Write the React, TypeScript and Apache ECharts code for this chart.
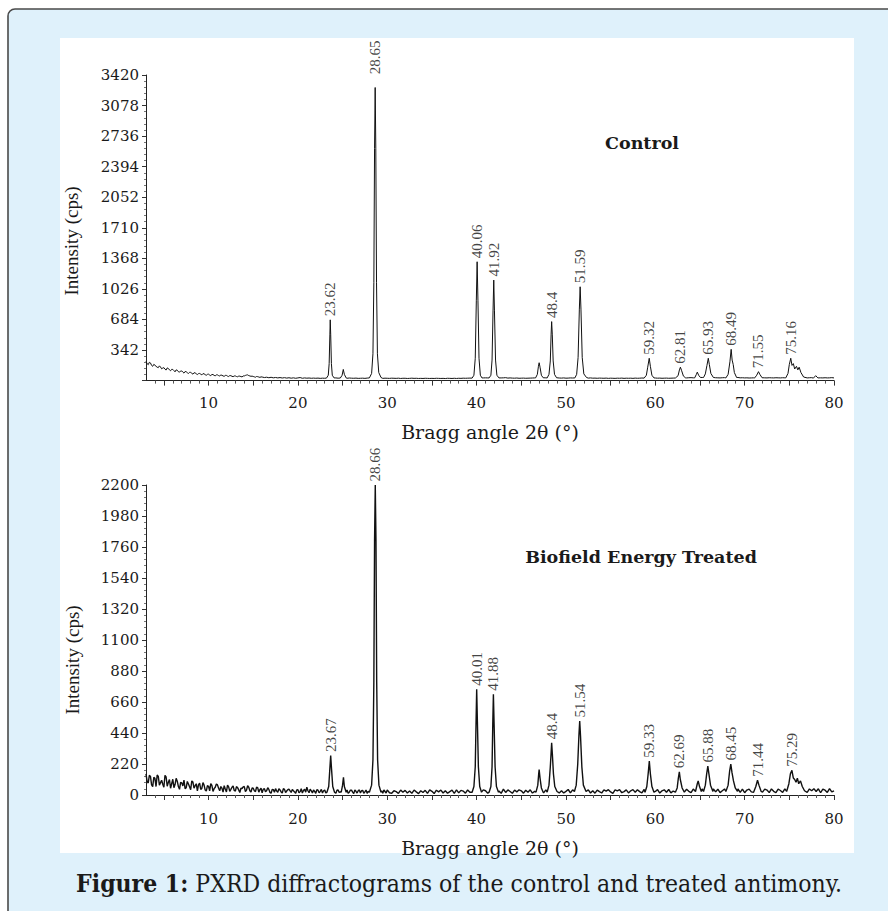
import React, { useEffect, useRef } from "react";
import * as echarts from "echarts";

// ---------- data ----------
const X_MIN = 3;
const X_MAX = 80;
const GRID_STEP = 0.25; // background samples every 0.25 degree
const MID_START = 3.125; // extra in-between background samples start here

const xTickMajor = [5, 10, 15, 20, 25, 30, 35, 40, 45, 50, 55, 60, 65, 70, 75, 80];
const xTickLabels = [10, 20, 30, 40, 50, 60, 70, 80];
const xTickMinor = [4, 6, 7, 8, 9, 11, 12, 13, 14, 16, 17, 18, 19, 21, 22, 23, 24, 26, 27, 28, 29, 31, 32, 33, 34, 36, 37, 38, 39, 41, 42, 43, 44, 46, 47, 48, 49, 51, 52, 53, 54, 56, 57, 58, 59, 61, 62, 63, 64, 66, 67, 68, 69, 71, 72, 73, 74, 76, 77, 78, 79];

const controlYMax = 3420;
const controlYStep = 342;
const treatedYMax = 2200;
const treatedYStep = 220;

// Control: background trace (cps), 0.25 deg apart starting at 3
const controlBaseline = [
  215, 178, 198, 160, 172, 150, 165, 132, 145, 118, 136, 110, 125, 98, 116, 94,
  108, 84, 99, 80, 92, 72, 86, 68, 80, 64, 76, 60, 72, 56, 68, 54,
  64, 52, 60, 48, 58, 46, 55, 44, 52, 43, 50, 41, 52, 62, 56, 48,
  46, 38, 44, 36, 40, 34, 38, 32, 37, 31, 35, 30, 34, 29, 33, 28,
  32, 27, 31, 26, 30, 34, 26, 30, 27, 29, 26, 28, 26, 28, 25, 27,
  26, 27, 28, 27, 28, 30, 27, 29, 27, 28, 26, 29, 27, 26, 28, 25,
  26, 27, 25, 28, 27, 26, 28, 27, 26, 28, 25, 27, 26, 25, 27, 26,
  25, 27, 24, 26, 26, 24, 25, 27, 25, 26, 24, 25, 24, 26, 25, 24,
  25, 24, 26, 25, 24, 25, 23, 26, 25, 24, 26, 24, 26, 25, 27, 26,
  27, 28, 27, 29, 30, 29, 28, 30, 31, 30, 29, 31, 30, 32, 29, 30,
  31, 33, 28, 30, 28, 27, 29, 26, 27, 28, 26, 27, 28, 29, 30, 28,
  30, 29, 28, 31, 30, 29, 31, 30, 32, 29, 28, 30, 27, 28, 30, 29,
  30, 29, 31, 30, 32, 29, 28, 30, 27, 28, 26, 28, 27, 26, 28, 25,
  27, 26, 25, 27, 26, 28, 25, 27, 26, 27, 25, 28, 26, 27, 29, 28,
  30, 28, 29, 30, 29, 27, 28, 26, 27, 28, 26, 27, 28, 29, 30, 28,
  29, 31, 30, 32, 33, 31, 34, 32, 33, 35, 34, 36, 35, 33, 34, 32,
  31, 30, 32, 33, 31, 30, 32, 34, 33, 35, 31, 32, 30, 31, 29, 30,
  31, 33, 30, 32, 34, 31, 30, 32, 31, 30, 32, 31, 30, 32, 31, 33,
  35, 33, 34, 36, 38, 35, 33, 36, 34, 32, 33, 31, 30, 32, 31, 30,
  32, 30, 31, 33, 30,
];
// Control: in-between background samples (3.125, 3.375, ...)
const controlBaselineMid = [
  190, 205, 170, 182, 160, 145, 152, 140, 128, 142, 120, 126, 112, 120, 100, 108,
  95, 102, 88, 92, 82, 88, 76, 78, 72, 78, 66, 70, 62, 68, 58, 64,
  56, 62, 52, 58, 50, 56, 48, 52, 46, 50, 45, 52, 58, 64, 52, 50,
  42, 46, 40, 42,
];

// Treated: noisy background trace (cps), 0.25 deg apart starting at 3
const treatedBaseline = [
  150, 85, 132, 60, 118, 142, 70, 105, 55, 128, 90, 48, 112, 74, 98, 40,
  86, 105, 52, 78, 38, 92, 66, 30, 84, 47, 70, 28, 62, 80, 25, 55,
  72, 30, 48, 66, 22, 58, 40, 64, 28, 52, 18, 45, 60, 35, 55, 20,
  48, 24, 52, 38, 15, 44, 30, 40, 12, 38, 45, 20, 36, 14, 40, 28,
  42, 18, 30, 12, 38, 24, 14, 40, 55, 16, 30, 36, 12, 34, 26, 14,
  35, 20, 34, 14, 30, 12, 36, 22, 28, 14, 36, 20, 34, 10, 26, 30,
  14, 33, 22, 12, 34, 18, 33, 11, 28, 34, 12, 25, 36, 16, 12, 30,
  24, 11, 35, 20, 33, 14, 28, 12, 35, 22, 10, 30, 18, 33, 12, 36,
  26, 10, 34, 22, 35, 14, 30, 12, 24, 34, 12, 36, 15, 33, 28, 13,
  36, 20, 14, 34, 22, 35, 14, 36, 30, 13, 35, 20, 14, 36, 28, 12,
  42, 18, 36, 25, 12, 35, 22, 37, 30, 13, 34, 20, 37, 14, 26, 40,
  22, 38, 15, 36, 28, 14, 36, 24, 38, 15, 30, 14, 26, 39, 15, 37,
  20, 38, 32, 16, 40, 22, 36, 14, 30, 13, 35, 24, 14, 36, 28, 38,
  22, 12, 37, 30, 38, 16, 24, 36, 15, 30, 38, 20, 37, 24, 15, 39,
  28, 38, 15, 40, 25, 38, 14, 30, 37, 20, 39, 15, 28, 40, 16, 36,
  39, 18, 41, 26, 17, 42, 30, 40, 18, 43, 28, 44, 32, 16, 44, 22,
  41, 17, 30, 43, 24, 42, 18, 44, 30, 43, 18, 41, 16, 35, 42, 22,
  41, 16, 30, 43, 20, 42, 35, 17, 43, 26, 16, 41, 32, 18, 44, 25,
  45, 22, 46, 30, 47, 20, 44, 28, 18, 43, 30, 45, 25, 44, 16, 42,
  34, 18, 45, 22, 30,
];
// Treated: in-between background samples (3.125, 3.375, ...)
const treatedBaselineMid = [
  95, 140, 72, 125, 60, 132, 88, 76, 140, 62, 110, 80, 52, 118, 60, 90,
  64, 45, 96, 58, 100, 48, 80, 72, 40, 88, 35, 66, 30, 68, 45, 78,
  48, 60, 20, 42, 70, 26, 55, 32, 60, 36, 48, 58, 25, 66, 30, 50,
  30, 55, 20, 48, 42, 24, 52, 18, 40, 20, 28, 44, 22, 45, 18, 38,
  30, 40, 22, 36, 15, 44, 32, 20, 30, 42, 14, 25, 38, 16, 40, 30,
  14, 36, 24, 38, 16, 34, 18, 30, 36, 22, 12, 34, 20, 35, 14, 36,
  30, 12, 35, 26, 14, 30, 20, 36, 16, 30, 36, 14,
];

// Control: peak profiles [2theta, cps]
const controlPeaks: [number, number][][] = [
  [[23.2, 28], [23.4, 60], [23.5, 190], [23.58, 520], [23.62, 680], [23.67, 520], [23.75, 190], [23.85, 60], [24.05, 30]],
  [[24.8, 28], [24.95, 60], [25.08, 125], [25.2, 70], [25.4, 30]],
  [[28.0, 30], [28.25, 80], [28.4, 300], [28.5, 1100], [28.58, 2600], [28.65, 3280], [28.72, 2600], [28.8, 1100], [28.9, 300], [29.05, 90], [29.3, 35]],
  [[39.5, 28], [39.7, 60], [39.85, 250], [39.97, 900], [40.06, 1330], [40.15, 900], [40.27, 250], [40.42, 60], [40.6, 30]],
  [[41.4, 30], [41.6, 60], [41.73, 230], [41.84, 780], [41.92, 1125], [42.0, 780], [42.12, 230], [42.27, 60], [42.5, 30]],
  [[46.6, 30], [46.8, 70], [46.92, 160], [47.0, 200], [47.1, 150], [47.25, 60], [47.45, 32]],
  [[47.9, 30], [48.1, 70], [48.25, 220], [48.34, 520], [48.4, 660], [48.47, 520], [48.57, 220], [48.72, 70], [48.95, 32]],
  [[51.0, 30], [51.2, 70], [51.36, 260], [51.5, 800], [51.59, 1050], [51.68, 800], [51.82, 260], [52.0, 75], [52.3, 35]],
  [[58.8, 28], [59.0, 60], [59.15, 150], [59.32, 250], [59.45, 160], [59.62, 60], [59.85, 30]],
  [[62.3, 28], [62.55, 55], [62.7, 120], [62.81, 150], [62.95, 110], [63.15, 50], [63.4, 30]],
  [[64.4, 30], [64.6, 70], [64.7, 95], [64.85, 60], [65.05, 35]],
  [[65.4, 35], [65.6, 75], [65.78, 170], [65.93, 250], [66.05, 180], [66.22, 80], [66.5, 35]],
  [[67.9, 30], [68.15, 70], [68.35, 210], [68.49, 350], [68.6, 230], [68.72, 180], [68.85, 90], [69.1, 35]],
  [[71.1, 28], [71.35, 60], [71.55, 100], [71.7, 70], [71.95, 32]],
  [[74.6, 30], [74.85, 80], [75.0, 180], [75.16, 250], [75.3, 170], [75.45, 190], [75.6, 130], [75.8, 160], [75.95, 120], [76.1, 150], [76.3, 90], [76.6, 40], [77.0, 30]],
  [[77.7, 28], [77.95, 55], [78.2, 30]],
];

// Treated: peak profiles [2theta, cps]
const treatedPeaks: [number, number][][] = [
  [[23.25, 20], [23.45, 60], [23.57, 180], [23.67, 280], [23.77, 180], [23.9, 60], [24.1, 20]],
  [[24.85, 20], [25.0, 70], [25.1, 125], [25.2, 60], [25.4, 20]],
  [[28.0, 20], [28.25, 70], [28.4, 250], [28.5, 800], [28.58, 1800], [28.66, 2200], [28.74, 1800], [28.82, 800], [28.92, 250], [29.07, 70], [29.3, 20]],
  [[39.5, 20], [39.7, 60], [39.85, 200], [39.94, 520], [40.01, 750], [40.09, 520], [40.2, 200], [40.35, 60], [40.55, 20]],
  [[41.4, 20], [41.6, 60], [41.73, 200], [41.81, 500], [41.88, 715], [41.96, 500], [42.07, 200], [42.22, 60], [42.45, 20]],
  [[46.65, 20], [46.85, 70], [46.95, 150], [47.0, 180], [47.1, 120], [47.25, 50], [47.45, 20]],
  [[47.9, 20], [48.1, 70], [48.25, 200], [48.34, 300], [48.4, 370], [48.48, 290], [48.6, 150], [48.75, 60], [49.0, 25]],
  [[50.95, 25], [51.15, 70], [51.32, 220], [51.45, 420], [51.54, 525], [51.63, 420], [51.78, 200], [51.95, 70], [52.25, 25]],
  [[58.85, 20], [59.05, 60], [59.2, 150], [59.33, 240], [59.45, 150], [59.62, 60], [59.85, 20]],
  [[62.25, 20], [62.45, 50], [62.58, 120], [62.69, 165], [62.8, 110], [63.0, 50], [63.25, 20]],
  [[64.5, 25], [64.7, 80], [64.8, 100], [64.95, 60], [65.15, 25]],
  [[65.4, 25], [65.6, 70], [65.75, 150], [65.88, 205], [66.0, 150], [66.18, 70], [66.45, 25]],
  [[67.9, 25], [68.15, 70], [68.32, 170], [68.45, 220], [68.58, 160], [68.75, 100], [68.95, 50], [69.2, 25]],
  [[71.0, 20], [71.25, 60], [71.44, 105], [71.6, 70], [71.85, 25]],
  [[74.7, 25], [74.95, 80], [75.12, 150], [75.29, 175], [75.45, 120], [75.6, 110], [75.75, 90], [75.9, 120], [76.05, 80], [76.25, 100], [76.45, 60], [76.7, 30]],
];

// Peak annotations [2theta, intensity at label foot, text]
const controlLabels: [number, number, string][] = [
  [23.62, 680, "23.62"], [28.65, 3390, "28.65"], [40.06, 1330, "40.06"], [41.92, 1125, "41.92"],
  [48.4, 660, "48.4"], [51.59, 1050, "51.59"], [59.32, 250, "59.32"], [62.81, 150, "62.81"],
  [65.93, 250, "65.93"], [68.49, 350, "68.49"], [71.55, 100, "71.55"], [75.16, 250, "75.16"],
];
const treatedLabels: [number, number, string][] = [
  [23.67, 280, "23.67"], [28.66, 2200, "28.66"], [40.01, 750, "40.01"], [41.88, 715, "41.88"],
  [48.4, 370, "48.4"], [51.54, 525, "51.54"], [59.33, 240, "59.33"], [62.69, 165, "62.69"],
  [65.88, 205, "65.88"], [68.45, 220, "68.45"], [71.44, 105, "71.44"], [75.29, 175, "75.29"],
];

const controlTitle = "Control";
const treatedTitle = "Biofield Energy Treated";
const xName = "Bragg angle 2θ (°)";
const yName = "Intensity (cps)";
const captionBold = "Figure 1:";
const captionText = " PXRD diffractograms of the control and treated antimony.";

// ---------- helpers ----------
function buildTrace(
  backgrounds: { start: number; values: number[] }[],
  peaks: [number, number][][]
): [number, number][] {
  const windows = peaks.map((p) => [p[0][0], p[p.length - 1][0]]);
  const pts: [number, number][] = [];
  backgrounds.forEach(({ start, values }) => {
    values.forEach((v, i) => {
      const x = start + i * GRID_STEP;
      if (!windows.some(([a, b]) => x >= a && x <= b)) pts.push([x, v]);
    });
  });
  peaks.forEach((p) => p.forEach((q) => pts.push([q[0], q[1]])));
  pts.sort((a, b) => a[0] - b[0]);
  return pts;
}

const SERIF = '"DejaVu Serif", "Liberation Serif", serif';
const TIMES = '"Liberation Serif", "Times New Roman", serif';
const CAPTION = '"DejaVu Serif Condensed", "Liberation Serif", serif';
const INK = "#1a1a1a";

export default function App() {
  const ref = useRef<HTMLDivElement>(null);

  useEffect(() => {
    if (!ref.current) return;
    const chart = echarts.init(ref.current, null, { renderer: "svg" });

    const grids = [
      { left: 146, right: 54, top: 75, height: 305.6 },
      { left: 146, right: 54, top: 485, height: 310 },
    ];

    const mainX = (gi: number, margin: number, gap: number) => ({
      type: "value",
      gridIndex: gi,
      min: X_MIN,
      max: X_MAX,
      position: "bottom",
      name: xName,
      nameLocation: "middle",
      nameGap: gap,
      nameTextStyle: { fontFamily: SERIF, fontSize: 19, color: INK },
      axisLine: { show: true, onZero: false, lineStyle: { color: "#222", width: 1 } },
      axisTick: { show: true, customValues: xTickMajor, length: 5, lineStyle: { color: "#333" } },
      axisLabel: { show: true, customValues: xTickLabels, margin, fontFamily: SERIF, fontSize: 15, color: INK },
      splitLine: { show: false },
    });
    const minorX = (gi: number) => ({
      type: "value",
      gridIndex: gi,
      min: X_MIN,
      max: X_MAX,
      position: "bottom",
      axisLine: { show: false },
      axisTick: { show: true, customValues: xTickMinor, length: 3, lineStyle: { color: "#555" } },
      axisLabel: { show: false },
      splitLine: { show: false },
    });
    const yAx = (gi: number, max: number, step: number, hideZero: boolean) => ({
      type: "value",
      gridIndex: gi,
      min: 0,
      max,
      interval: step,
      axisLine: { show: true, lineStyle: { color: "#222", width: 1 } },
      axisTick: { show: true, length: 4, lineStyle: { color: "#333" } },
      minorTick: { show: true, splitNumber: 5, length: 2, lineStyle: { color: "#777" } },
      axisLabel: {
        margin: 7,
        fontFamily: SERIF,
        fontSize: 15,
        color: INK,
        formatter: (v: number) => (hideZero && v === 0 ? "" : String(v)),
      },
      splitLine: { show: false },
    });

    const labelSeries = (xi: number, yi: number, items: [number, number, string][]) => ({
      type: "scatter",
      xAxisIndex: xi,
      yAxisIndex: yi,
      silent: true,
      symbolSize: 1,
      itemStyle: { color: "rgba(0,0,0,0)" },
      data: items.map(([x, y, t]) => ({ value: [x, y], name: t })),
      label: {
        show: true,
        position: "top",
        distance: 3,
        rotate: 90,
        align: "left",
        verticalAlign: "middle",
        formatter: (p: any) => p.name,
        fontFamily: TIMES,
        fontSize: 15,
        color: "#111",
      },
      z: 5,
    });

    chart.setOption({
      animation: false,
      backgroundColor: "transparent",
      grid: grids,
      xAxis: [mainX(0, 15, 42), minorX(0), mainX(1, 16, 43), minorX(1)],
      yAxis: [yAx(0, controlYMax, controlYStep, true), yAx(1, treatedYMax, treatedYStep, false)],
      graphic: [
        {
          type: "rect",
          z: -10,
          shape: { x: 8, y: 9, width: 900, height: 920, r: 7 },
          style: { fill: "#dff1fb", stroke: "#4a4a4a", lineWidth: 1.6 },
        },
        {
          type: "rect",
          z: -9,
          shape: { x: 60, y: 38, width: 794, height: 815 },
          style: { fill: "#ffffff" },
        },
        {
          type: "text",
          x: 642,
          y: 143,
          style: { text: controlTitle, fontFamily: SERIF, fontWeight: "bold", fontSize: 17.5, fill: INK, align: "center", verticalAlign: "middle" },
        },
        {
          type: "text",
          x: 641,
          y: 557,
          style: { text: treatedTitle, fontFamily: SERIF, fontWeight: "bold", fontSize: 17.5, fill: INK, align: "center", verticalAlign: "middle" },
        },
        {
          type: "text",
          x: 71,
          y: 241,
          rotation: Math.PI / 2,
          style: { text: yName, fontFamily: TIMES, fontSize: 19, fill: INK, align: "center", verticalAlign: "middle" },
        },
        {
          type: "text",
          x: 72,
          y: 660,
          rotation: Math.PI / 2,
          style: { text: yName, fontFamily: TIMES, fontSize: 19, fill: INK, align: "center", verticalAlign: "middle" },
        },
        {
          type: "text",
          x: 459,
          y: 883,
          style: {
            text: "{b|" + captionBold + "}" + captionText,
            fontFamily: CAPTION,
            fontSize: 24.5,
            fill: INK,
            align: "center",
            verticalAlign: "middle",
            rich: {
              b: { fontFamily: CAPTION, fontWeight: "bold", fontSize: 24.5, fill: INK },
            },
          },
        },
      ],
      series: [
        {
          type: "line",
          xAxisIndex: 0,
          yAxisIndex: 0,
          data: buildTrace(
            [
              { start: X_MIN, values: controlBaseline },
              { start: MID_START, values: controlBaselineMid },
            ],
            controlPeaks
          ),
          showSymbol: false,
          symbol: "none",
          lineStyle: { color: "#111", width: 1 },
          silent: true,
        },
        {
          type: "line",
          xAxisIndex: 2,
          yAxisIndex: 1,
          data: buildTrace(
            [
              { start: X_MIN, values: treatedBaseline },
              { start: MID_START, values: treatedBaselineMid },
            ],
            treatedPeaks
          ),
          showSymbol: false,
          symbol: "none",
          lineStyle: { color: "#111", width: 1.4 },
          silent: true,
        },
        labelSeries(0, 0, controlLabels),
        labelSeries(2, 1, treatedLabels),
      ],
    });

    return () => chart.dispose();
  }, []);

  return <div ref={ref} style={{ position: "absolute", left: 0, top: 0, width: 888, height: 911 }} />;
}
